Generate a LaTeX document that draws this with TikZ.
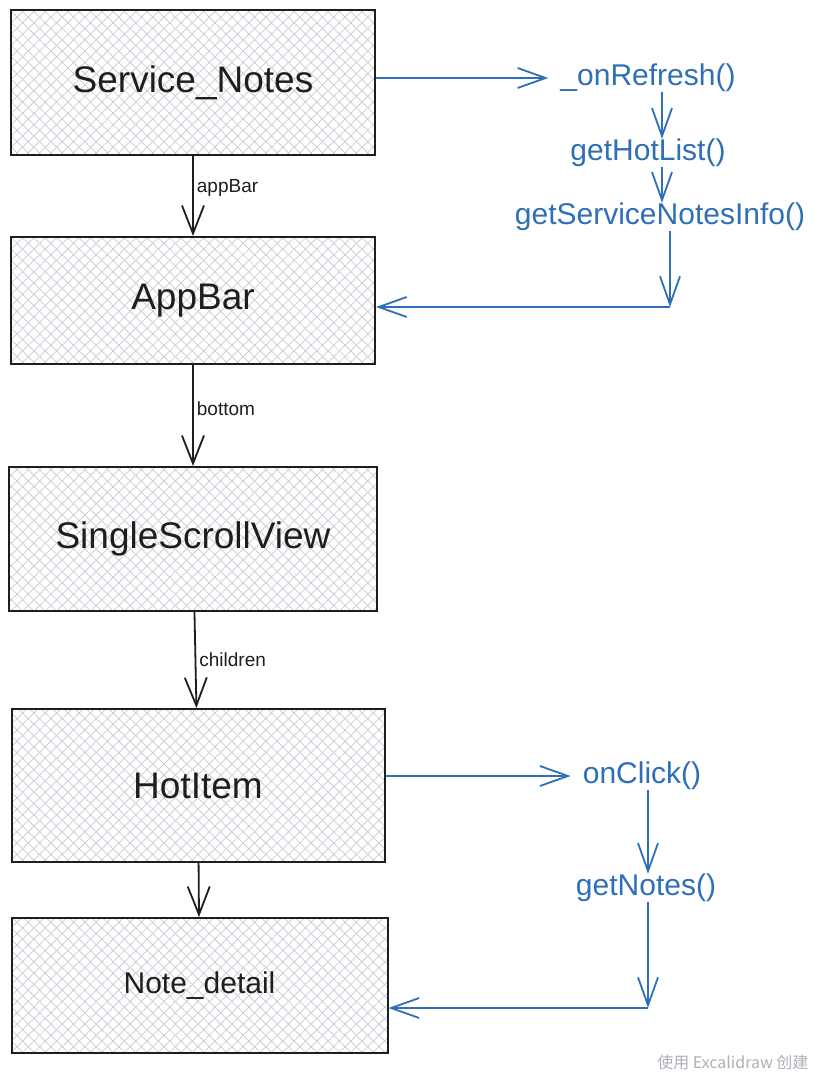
\documentclass[tikz,border=0pt]{standalone}
\usepackage{fontspec}
\setmainfont{Liberation Sans}
\newfontfamily\cjkfont{Noto Sans CJK SC}
\usetikzlibrary{arrows.meta,positioning,patterns.meta}
\definecolor{ink}{HTML}{1E1E1E}
\definecolor{penblue}{HTML}{2F6FB6}
\definecolor{hatch}{HTML}{C6CBD3}
\definecolor{wmgrey}{HTML}{ADB0B8}

\begin{document}
\begin{tikzpicture}[x=1pt, y=-1pt,
  box/.style={draw=ink, line width=2pt, minimum width=364pt, minimum height=145pt, inner sep=0pt, text=ink, font=\fontsize{37}{40}\selectfont,
    preaction={pattern={Lines[angle=45,distance=8pt,line width=.7pt]}, pattern color=hatch},
    preaction={pattern={Lines[angle=-45,distance=8pt,line width=.7pt]}, pattern color=hatch}},
  call/.style={text=penblue, inner sep=0pt, font=\fontsize{30}{32}\selectfont},
  tag/.style={anchor=west, inner sep=3pt, text=ink, font=\fontsize{19}{21}\selectfont},
  arr/.style={-{Straight Barb[length=28pt,width=22pt]}, ink, line width=1.8pt},
  barr/.style={-{Straight Barb[length=28pt,width=20pt]}, penblue, line width=1.8pt}
]
\fill[white] (0,0) rectangle (821,1075);

\node[box] (sn) at (193,82.5) {Service\_Notes};
\node[box, minimum height=127pt, below=80pt of sn] (ab) {AppBar};
\node[box, minimum width=368pt, minimum height=144pt, below=101pt of ab] (ssv) {SingleScrollView};
\node[box, minimum width=373pt, minimum height=153pt, below=96pt of ssv, xshift=5pt] (hi) {HotItem};
\node[box, minimum width=376pt, minimum height=135pt, below=54pt of hi, xshift=1.5pt, font=\fontsize{30}{32}\selectfont] (nd) {Note\_detail};

\node[call] (ref) at (648,78) {\_onRefresh()};
\node[call] (hot) at (648,153) {getHotList()};
\node[call] (info) at (660,217) {getServiceNotesInfo()};
\coordinate (c1) at (670,307);
\node[call] (click) at (642,776) {onClick()};
\node[call] (notes) at (646,888) {getNotes()};
\coordinate (c2) at (648,1008);

\node[anchor=east, text=wmgrey, font=\cjkfont\fontsize{16}{18}\selectfont] (wm) at (812,1062) {使用 Excalidraw 创建};

\draw[arr] (sn) -- (ab) node[tag, pos=0.4] {appBar};
\draw[arr] (ab) -- (ssv) node[tag, pos=0.43] {bottom};
\draw[arr] (ssv) -- (hi) node[tag, pos=0.5] {children};
\draw[arr] (hi) -- (nd);

\draw[barr] (sn.east |- ref) -- ([xshift=-12pt]ref.west);
\draw[barr] ([xshift=14pt]ref.south) -- ([xshift=14pt]hot.north);
\draw[barr] ([xshift=14pt]hot.south) -- ([xshift=2pt]info.north);
\draw[barr] (info.south -| c1) -- (c1);
\draw[barr] (c1) -- (c1 -| ab.east);
\draw[barr] (hi.east |- click) -- ([xshift=-12pt]click.west);
\draw[barr] ([xshift=6pt]click.south) -- ([xshift=2pt]notes.north);
\draw[barr] (notes.south -| c2) -- (c2);
\draw[barr] (c2) -- (c2 -| nd.east);
\end{tikzpicture}
\end{document}
